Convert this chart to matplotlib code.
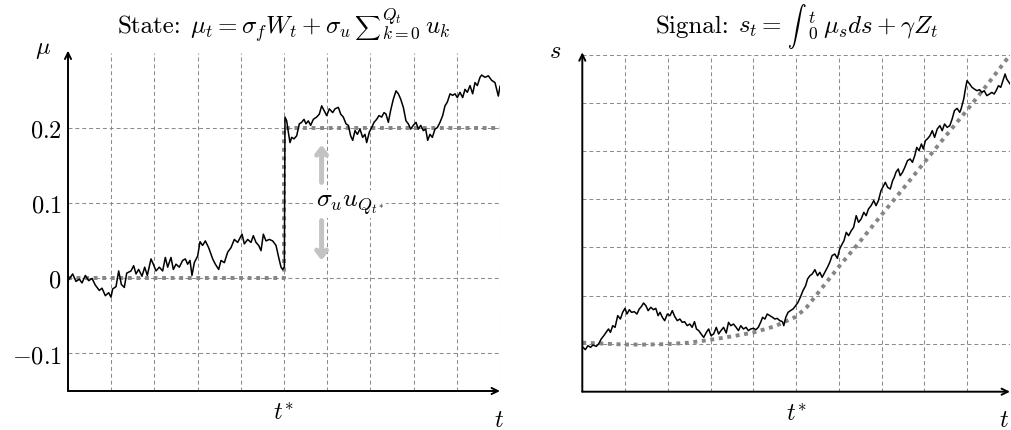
import numpy as np
import matplotlib
matplotlib.use("Agg")
import matplotlib.pyplot as plt

plt.rcParams['font.family'] = 'serif'
plt.rcParams['font.serif'] = ['cmr10']
plt.rcParams['mathtext.fontset'] = 'cm'
plt.rcParams['axes.formatter.use_mathtext'] = True

# ---- data ----------------------------------------------------------------
# state path mu_t (t, mu) before the jump at t*
state_before = [
    (0.000, -0.003), (0.108, 0.006), (0.185, -0.004), (0.262, -0.001), (0.324, -0.006),
    (0.401, 0.004), (0.478, -0.003), (0.556, 0.000), (0.633, -0.009), (0.725, -0.016),
    (0.787, -0.013), (0.864, -0.023), (0.941, -0.019), (0.995, -0.025), (1.034, -0.014),
    (1.111, -0.011), (1.173, 0.010), (1.235, -0.008), (1.304, -0.012), (1.358, 0.007),
    (1.458, 0.010), (1.520, 0.017), (1.574, 0.006), (1.636, 0.012), (1.713, 0.003),
    (1.775, 0.015), (1.836, 0.004), (1.921, 0.026), (1.975, 0.019), (2.037, 0.010),
    (2.114, 0.015), (2.191, 0.010), (2.253, 0.028), (2.307, 0.015), (2.384, 0.028),
    (2.438, 0.012), (2.500, 0.019), (2.577, 0.015), (2.654, 0.024), (2.716, 0.026),
    (2.770, 0.019), (2.824, 0.024), (2.870, 0.004), (2.924, 0.021), (3.002, 0.030),
    (3.056, 0.049), (3.117, 0.044), (3.179, 0.050), (3.256, 0.041), (3.349, 0.026),
    (3.410, 0.019), (3.488, 0.012), (3.542, 0.024), (3.619, 0.021), (3.696, 0.035),
    (3.773, 0.041), (3.850, 0.052), (3.927, 0.048), (4.028, 0.059), (4.082, 0.046),
    (4.159, 0.052), (4.236, 0.048), (4.290, 0.057), (4.352, 0.048), (4.414, 0.044),
    (4.468, 0.037), (4.522, 0.059), (4.583, 0.050), (4.660, 0.052), (4.738, 0.050),
    (4.815, 0.044), (4.877, 0.028), (4.931, 0.015), (4.969, 0.012), (5.008, 0.015),
]
# state path after the jump
state_after = [
    (5.023, 0.215), (5.062, 0.210), (5.100, 0.195), (5.139, 0.181), (5.178, 0.188),
    (5.231, 0.186), (5.293, 0.190), (5.355, 0.206), (5.409, 0.208), (5.463, 0.212),
    (5.509, 0.206), (5.563, 0.210), (5.617, 0.204), (5.679, 0.212), (5.756, 0.215),
    (5.818, 0.219), (5.872, 0.230), (5.926, 0.224), (5.988, 0.217), (6.049, 0.226),
    (6.127, 0.221), (6.181, 0.226), (6.258, 0.228), (6.312, 0.219), (6.373, 0.215),
    (6.435, 0.206), (6.489, 0.204), (6.543, 0.190), (6.590, 0.184), (6.644, 0.197),
    (6.698, 0.192), (6.759, 0.199), (6.821, 0.188), (6.875, 0.192), (6.914, 0.181),
    (6.975, 0.195), (7.029, 0.201), (7.083, 0.208), (7.145, 0.212), (7.199, 0.217),
    (7.261, 0.215), (7.315, 0.221), (7.361, 0.219), (7.415, 0.208), (7.469, 0.224),
    (7.531, 0.239), (7.593, 0.250), (7.647, 0.246), (7.701, 0.239), (7.762, 0.228),
    (7.824, 0.210), (7.878, 0.206), (7.932, 0.199), (7.994, 0.204), (8.056, 0.208),
    (8.110, 0.199), (8.164, 0.204), (8.225, 0.197), (8.279, 0.199), (8.326, 0.184),
    (8.380, 0.192), (8.434, 0.188), (8.495, 0.199), (8.549, 0.201), (8.611, 0.208),
    (8.673, 0.217), (8.727, 0.230), (8.781, 0.235), (8.843, 0.246), (8.904, 0.244),
    (8.958, 0.246), (9.012, 0.241), (9.074, 0.248), (9.136, 0.241), (9.190, 0.252),
    (9.244, 0.248), (9.306, 0.257), (9.367, 0.246), (9.421, 0.261), (9.475, 0.257),
    (9.537, 0.268), (9.576, 0.271), (9.653, 0.268), (9.730, 0.270), (9.807, 0.264),
    (9.884, 0.261), (9.961, 0.243), (10.000, 0.256),
]
# expected state (dotted)
state_mean_t = [0, 5, 5, 10]
state_mean = [0.0, 0.0, 0.2, 0.2]

# signal path s_t
signal_path = [
    (0.016, 0.922), (0.070, 0.874), (0.132, 0.957), (0.194, 0.922), (0.248, 0.971),
    (0.326, 0.943), (0.380, 0.992), (0.442, 1.096), (0.503, 1.165), (0.558, 1.234),
    (0.612, 1.304), (0.658, 1.234), (0.712, 1.373), (0.766, 1.338), (0.828, 1.581),
    (0.890, 1.511), (0.944, 1.650), (0.998, 1.733), (1.045, 1.615), (1.099, 1.705),
    (1.153, 1.650), (1.215, 1.664), (1.277, 1.615), (1.331, 1.719), (1.385, 1.775),
    (1.432, 1.844), (1.486, 1.789), (1.540, 1.685), (1.602, 1.754), (1.664, 1.705),
    (1.718, 1.733), (1.772, 1.581), (1.818, 1.650), (1.872, 1.546), (1.926, 1.477),
    (1.988, 1.615), (2.050, 1.581), (2.104, 1.685), (2.159, 1.567), (2.220, 1.477),
    (2.282, 1.511), (2.336, 1.442), (2.391, 1.456), (2.452, 1.373), (2.514, 1.407),
    (2.568, 1.338), (2.623, 1.456), (2.669, 1.304), (2.723, 1.269), (2.777, 1.200),
    (2.839, 1.130), (2.901, 1.234), (2.955, 1.304), (3.009, 1.165), (3.071, 1.200),
    (3.133, 1.338), (3.187, 1.200), (3.241, 1.269), (3.303, 1.338), (3.365, 1.220),
    (3.419, 1.442), (3.473, 1.373), (3.535, 1.407), (3.597, 1.338), (3.651, 1.269),
    (3.705, 1.373), (3.767, 1.304), (3.829, 1.338), (3.883, 1.269), (3.937, 1.304),
    (3.999, 1.317), (4.061, 1.290), (4.115, 1.338), (4.169, 1.442), (4.216, 1.546),
    (4.270, 1.511), (4.324, 1.615), (4.386, 1.581), (4.448, 1.546), (4.502, 1.511),
    (4.556, 1.525), (4.618, 1.477), (4.680, 1.456), (4.711, 1.373), (4.757, 1.546),
    (4.811, 1.650), (4.866, 1.685), (4.927, 1.719), (4.989, 1.789), (5.043, 1.858),
    (5.097, 1.962), (5.159, 2.100), (5.221, 2.204), (5.267, 2.343), (5.322, 2.412),
    (5.376, 2.447), (5.438, 2.537), (5.500, 2.412), (5.554, 2.482), (5.608, 2.378),
    (5.670, 2.482), (5.732, 2.586), (5.786, 2.690), (5.840, 2.828), (5.902, 2.863),
    (5.964, 2.773), (6.018, 2.967), (6.056, 3.036), (6.118, 3.140), (6.172, 3.313),
    (6.227, 3.244), (6.289, 3.348), (6.343, 3.417), (6.404, 3.660), (6.459, 3.521),
    (6.520, 3.590), (6.582, 3.729), (6.636, 3.660), (6.691, 3.798), (6.752, 3.868),
    (6.814, 3.972), (6.868, 3.868), (6.923, 3.972), (6.984, 4.179), (7.046, 4.283),
    (7.085, 4.353), (7.139, 4.249), (7.201, 4.214), (7.255, 4.387), (7.294, 4.457),
    (7.333, 4.561), (7.387, 4.630), (7.433, 4.491), (7.487, 4.561), (7.541, 4.665),
    (7.603, 4.803), (7.665, 4.838), (7.719, 4.769), (7.773, 4.907), (7.820, 5.080),
    (7.874, 5.011), (7.928, 5.150), (7.975, 5.046), (8.021, 5.219), (8.067, 5.254),
    (8.129, 5.323), (8.183, 5.427), (8.237, 5.288), (8.299, 5.462), (8.361, 5.531),
    (8.415, 5.427), (8.469, 5.565), (8.531, 5.496), (8.593, 5.531), (8.647, 5.669),
    (8.701, 5.843), (8.763, 5.891), (8.825, 5.808), (8.856, 5.877), (8.918, 6.085),
    (8.957, 6.293), (8.995, 6.466), (9.057, 6.397), (9.111, 6.328), (9.165, 6.293),
    (9.227, 6.258), (9.289, 6.279), (9.343, 6.223), (9.397, 6.258), (9.459, 6.155),
    (9.521, 6.189), (9.575, 6.223), (9.629, 6.189), (9.676, 6.258), (9.730, 6.362),
    (9.784, 6.328), (9.846, 6.501), (9.885, 6.605), (9.923, 6.501), (10.000, 6.40),
]
# integrated expected state (dotted)
signal_mean_t = [0, 0.5, 1, 1.5, 2, 2.5, 3, 3.5, 4, 4.5, 5, 5.25, 5.5,
                 6, 6.5, 7, 7.5, 8, 8.5, 9, 9.5, 10]
signal_mean = [1.02, 1.00, 0.98, 0.98, 0.99, 1.02, 1.08, 1.15, 1.23, 1.36, 1.56, 1.76, 2.04,
               2.60, 3.13, 3.68, 4.22, 4.77, 5.32, 5.86, 6.42, 7.00]

mu_ticks = [-0.1, 0, 0.1, 0.2]
mu_ticklabels = [r'$-0.1$', r'$0$', r'$0.1$', r'$0.2$']

# ---- styling ---------------------------------------------------------------
W, H = 1011, 431
grid_kw = dict(color='#8c8c8c', lw=0.75, ls=(0, (3.8, 2.8)), zorder=1)
dot_kw = dict(color='#858585', lw=2.8, ls=(0, (1, 1.2)), zorder=2)
path_kw = dict(color='black', lw=1.1, zorder=3)
FS = 17.5
TFS = 18

fig = plt.figure(figsize=(W / 100, H / 100), dpi=100)
ax1 = fig.add_axes([68 / W, (H - 392) / H, 432 / W, (392 - 54.3) / H])
ax2 = fig.add_axes([582.3 / W, (H - 392.7) / H, 427.7 / W, (392.7 - 56) / H])


def draw_frame(ax, xlim, ylim):
    ax.set_xlim(*xlim)
    ax.set_ylim(*ylim)
    for sp in ax.spines.values():
        sp.set_visible(False)
    arrow = dict(arrowstyle='->,head_length=0.45,head_width=0.22', lw=1.4, color='black',
                 shrinkA=0, shrinkB=0)
    ax.annotate('', xy=(0, 1.008), xytext=(0, 0), xycoords='axes fraction',
                arrowprops=arrow, annotation_clip=False)
    ax.annotate('', xy=(1.0, 0), xytext=(0, 0), xycoords='axes fraction',
                arrowprops=arrow, annotation_clip=False)
    ax.tick_params(length=0, labelsize=FS)


def text_row(xc, yb, pieces):
    """Lay text pieces (text, size, gap after in px) side by side, centred at xc."""
    renderer = fig.canvas.get_renderer()
    items = []
    total = 0
    for s, size, gap in pieces:
        t = fig.text(0, 0, s, fontsize=size, ha='left', va='baseline')
        w = t.get_window_extent(renderer).width
        items.append((t, total))
        total += w + gap
    x0 = xc - total / 2
    for t, off in items:
        t.set_position(((x0 + off) / W, 1 - yb / H))


# left: state
draw_frame(ax1, (0, 10), (-0.15, 0.3))
for x in range(1, 11):
    ax1.axvline(x, **grid_kw)
for y in mu_ticks:
    ax1.axhline(y, **grid_kw)
ax1.plot(state_mean_t, state_mean, **dot_kw)
path = np.vstack([np.array(state_before), np.array(state_after)])
ax1.plot(path[:, 0], path[:, 1], **path_kw)
ax1.set_yticks(mu_ticks)
ax1.set_yticklabels(mu_ticklabels)
ax1.set_xticks([5])
ax1.set_xticklabels([r'$t^{\!*}$'])
ax1.tick_params(axis='y', pad=4.5)
ax1.tick_params(axis='x', pad=8)

light = '#c3c3c3'
jump_arrow = dict(arrowstyle='->,head_length=0.45,head_width=0.35', lw=3.6, color=light,
                  shrinkA=0, shrinkB=0)
ax1.annotate('', xy=(5.87, 0.178), xytext=(5.87, 0.128), arrowprops=jump_arrow)
ax1.annotate('', xy=(5.87, 0.024), xytext=(5.87, 0.077), arrowprops=jump_arrow)
ax1.text(6.53, 0.099, r'$\sigma_u u_{Q_{t^*}}$', fontsize=FS + 1, ha='center', va='center',
         zorder=4, bbox=dict(facecolor='white', edgecolor='none', pad=1.5))

# right: signal
draw_frame(ax2, (0, 10), (0, 7))
for x in range(1, 11):
    ax2.axvline(x, **grid_kw)
for y in range(1, 8):
    ax2.axhline(y, **grid_kw)
ax2.plot(signal_mean_t, signal_mean, **dot_kw)
sig = np.array(signal_path)
ax2.plot(sig[:, 0], sig[:, 1], **path_kw)
ax2.set_yticks([])
ax2.set_xticks([5])
ax2.set_xticklabels([r'$t^{\!*}$'])
ax2.tick_params(axis='x', pad=8)

# titles and axis names
text_row(284, 34, [
    ('State:', TFS, 9),
    (r'$\mu_t = \sigma_f W_t + \sigma_u$', TFS, 3),
    (r'$\sum$', TFS * 0.72, 0),
    (r'${}_{k=0}^{Q_t}$', TFS, 4),
    (r'$u_k$', TFS, 0),
])
text_row(797, 33, [
    ('Signal:', TFS, 9),
    (r'$s_t =$', TFS, 5),
    (r'$\int$', TFS * 0.75, 0),
    (r'${}_0^t$', TFS, 5),
    (r'$\mu_s ds + \gamma Z_t$', TFS, 0),
])
fig.text(42.7 / W, 1 - 50 / H, r'$\mu$', ha='center', va='center', fontsize=FS)
fig.text(555 / W, 1 - 52 / H, r'$s$', ha='center', va='center', fontsize=FS)
fig.text(499 / W, 1 - 421 / H, r'$t$', ha='center', va='center', fontsize=FS)
fig.text(1004 / W, 1 - 421 / H, r'$t$', ha='center', va='center', fontsize=FS)

fig.savefig('out.png', dpi=100)
